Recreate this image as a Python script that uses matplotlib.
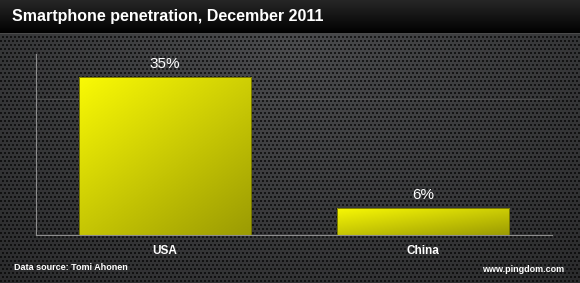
import numpy as np
import matplotlib
matplotlib.use("Agg")
import matplotlib.pyplot as plt

# Data
categories = ["USA", "China"]
values = [35, 6]
labels = ["35%", "6%"]

title = "Smartphone penetration, December 2011"
source = "Data source: Tomi Ahonen"
site = "www.pingdom.com"

plt.rcParams['font.family'] = ['Liberation Sans', 'DejaVu Sans']

W, H = 580, 283
fig = plt.figure(figsize=(W / 100, H / 100), dpi=100)

# carbon fibre background
bg = fig.add_axes([0, 0, 1, 1])
yy, xx = np.mgrid[0:H, 0:W]
shift = (yy // 4 % 2) * 2
holes = (((xx + shift) % 4) < 2) & ((yy % 4) < 2)
d = np.sqrt(((xx - W * 0.5) / (W * 0.75)) ** 2 + ((yy - H * 0.15) / (H * 1.1)) ** 2)
base = np.clip(0.29 - 0.12 * d, 0.13, 0.29)
tex = np.where(holes, base * 0.35, base)
img = np.dstack([tex, tex * 1.01, tex * 1.04])
bg.imshow(np.clip(img, 0, 1), extent=[0, W, H, 0], aspect='auto', interpolation='nearest')
bg.set_xlim(0, W)
bg.set_ylim(H, 0)
bg.axis('off')

# title bar
tb = fig.add_axes([0, 1 - 34 / H, 1, 34 / H])
grad = np.linspace(0.15, 0.0, 50).reshape(-1, 1)
tb.imshow(np.dstack([grad, grad, grad]), extent=[0, 1, 0, 1], aspect='auto')
tb.axhline(0.01, color='#5a5a5a', lw=1.2)
tb.set_xlim(0, 1)
tb.set_ylim(0, 1)
tb.axis('off')
tb.text(12 / W, 0.52, title, color='white', fontsize=11.5, fontweight='bold',
        va='center', ha='left', transform=tb.transAxes)

# main chart
ax = fig.add_axes([36 / W, 1 - 235 / H, (552 - 36) / W, (235 - 54) / H])
ax.set_facecolor('none')
ax.set_xlim(-0.5, 1.5)
ax.set_ylim(0, 40)
ax.axhline(30, color='#5c5c5c', lw=0.6, alpha=0.6, zorder=0)
x = np.arange(len(categories))
bars = ax.bar(x, values, width=0.667, color='none', edgecolor='#6b6b00', lw=0.6, zorder=3)

gy, gx = np.mgrid[0:1:100j, 0:1:100j]
shade = 1.0 - 0.38 * (0.55 * gy + 0.45 * gx)
bimg = np.dstack([0.98 * shade, 0.98 * shade, 0.02 * shade])
for b in bars:
    x0, y0 = b.get_x(), b.get_y()
    w, h = b.get_width(), b.get_height()
    im = ax.imshow(bimg, extent=[x0, x0 + w, y0, y0 + h], origin='upper',
                   aspect='auto', zorder=2)
    im.set_clip_path(b)

for xi, v, lab in zip(x, values, labels):
    ax.text(xi, v + 1.2, lab, ha='center', va='bottom', color='white', fontsize=11)

ax.set_xticks(x)
ax.set_xticklabels(categories, color='white', fontsize=8.5, fontweight='bold')
ax.tick_params(axis='x', length=0, pad=7)
ax.set_yticks([])
for s in ['top', 'right']:
    ax.spines[s].set_visible(False)
for s in ['left', 'bottom']:
    ax.spines[s].set_color('#8c8c8c')
    ax.spines[s].set_linewidth(0.8)

fig.text(14 / W, 1 - 268 / H, source, color='white', fontsize=6.5,
         fontweight='bold', va='center', ha='left')
fig.text(564 / W, 1 - 269 / H, site, color='white', fontsize=6.5,
         fontweight='bold', va='center', ha='right')

fig.savefig("out.png", dpi=100)
